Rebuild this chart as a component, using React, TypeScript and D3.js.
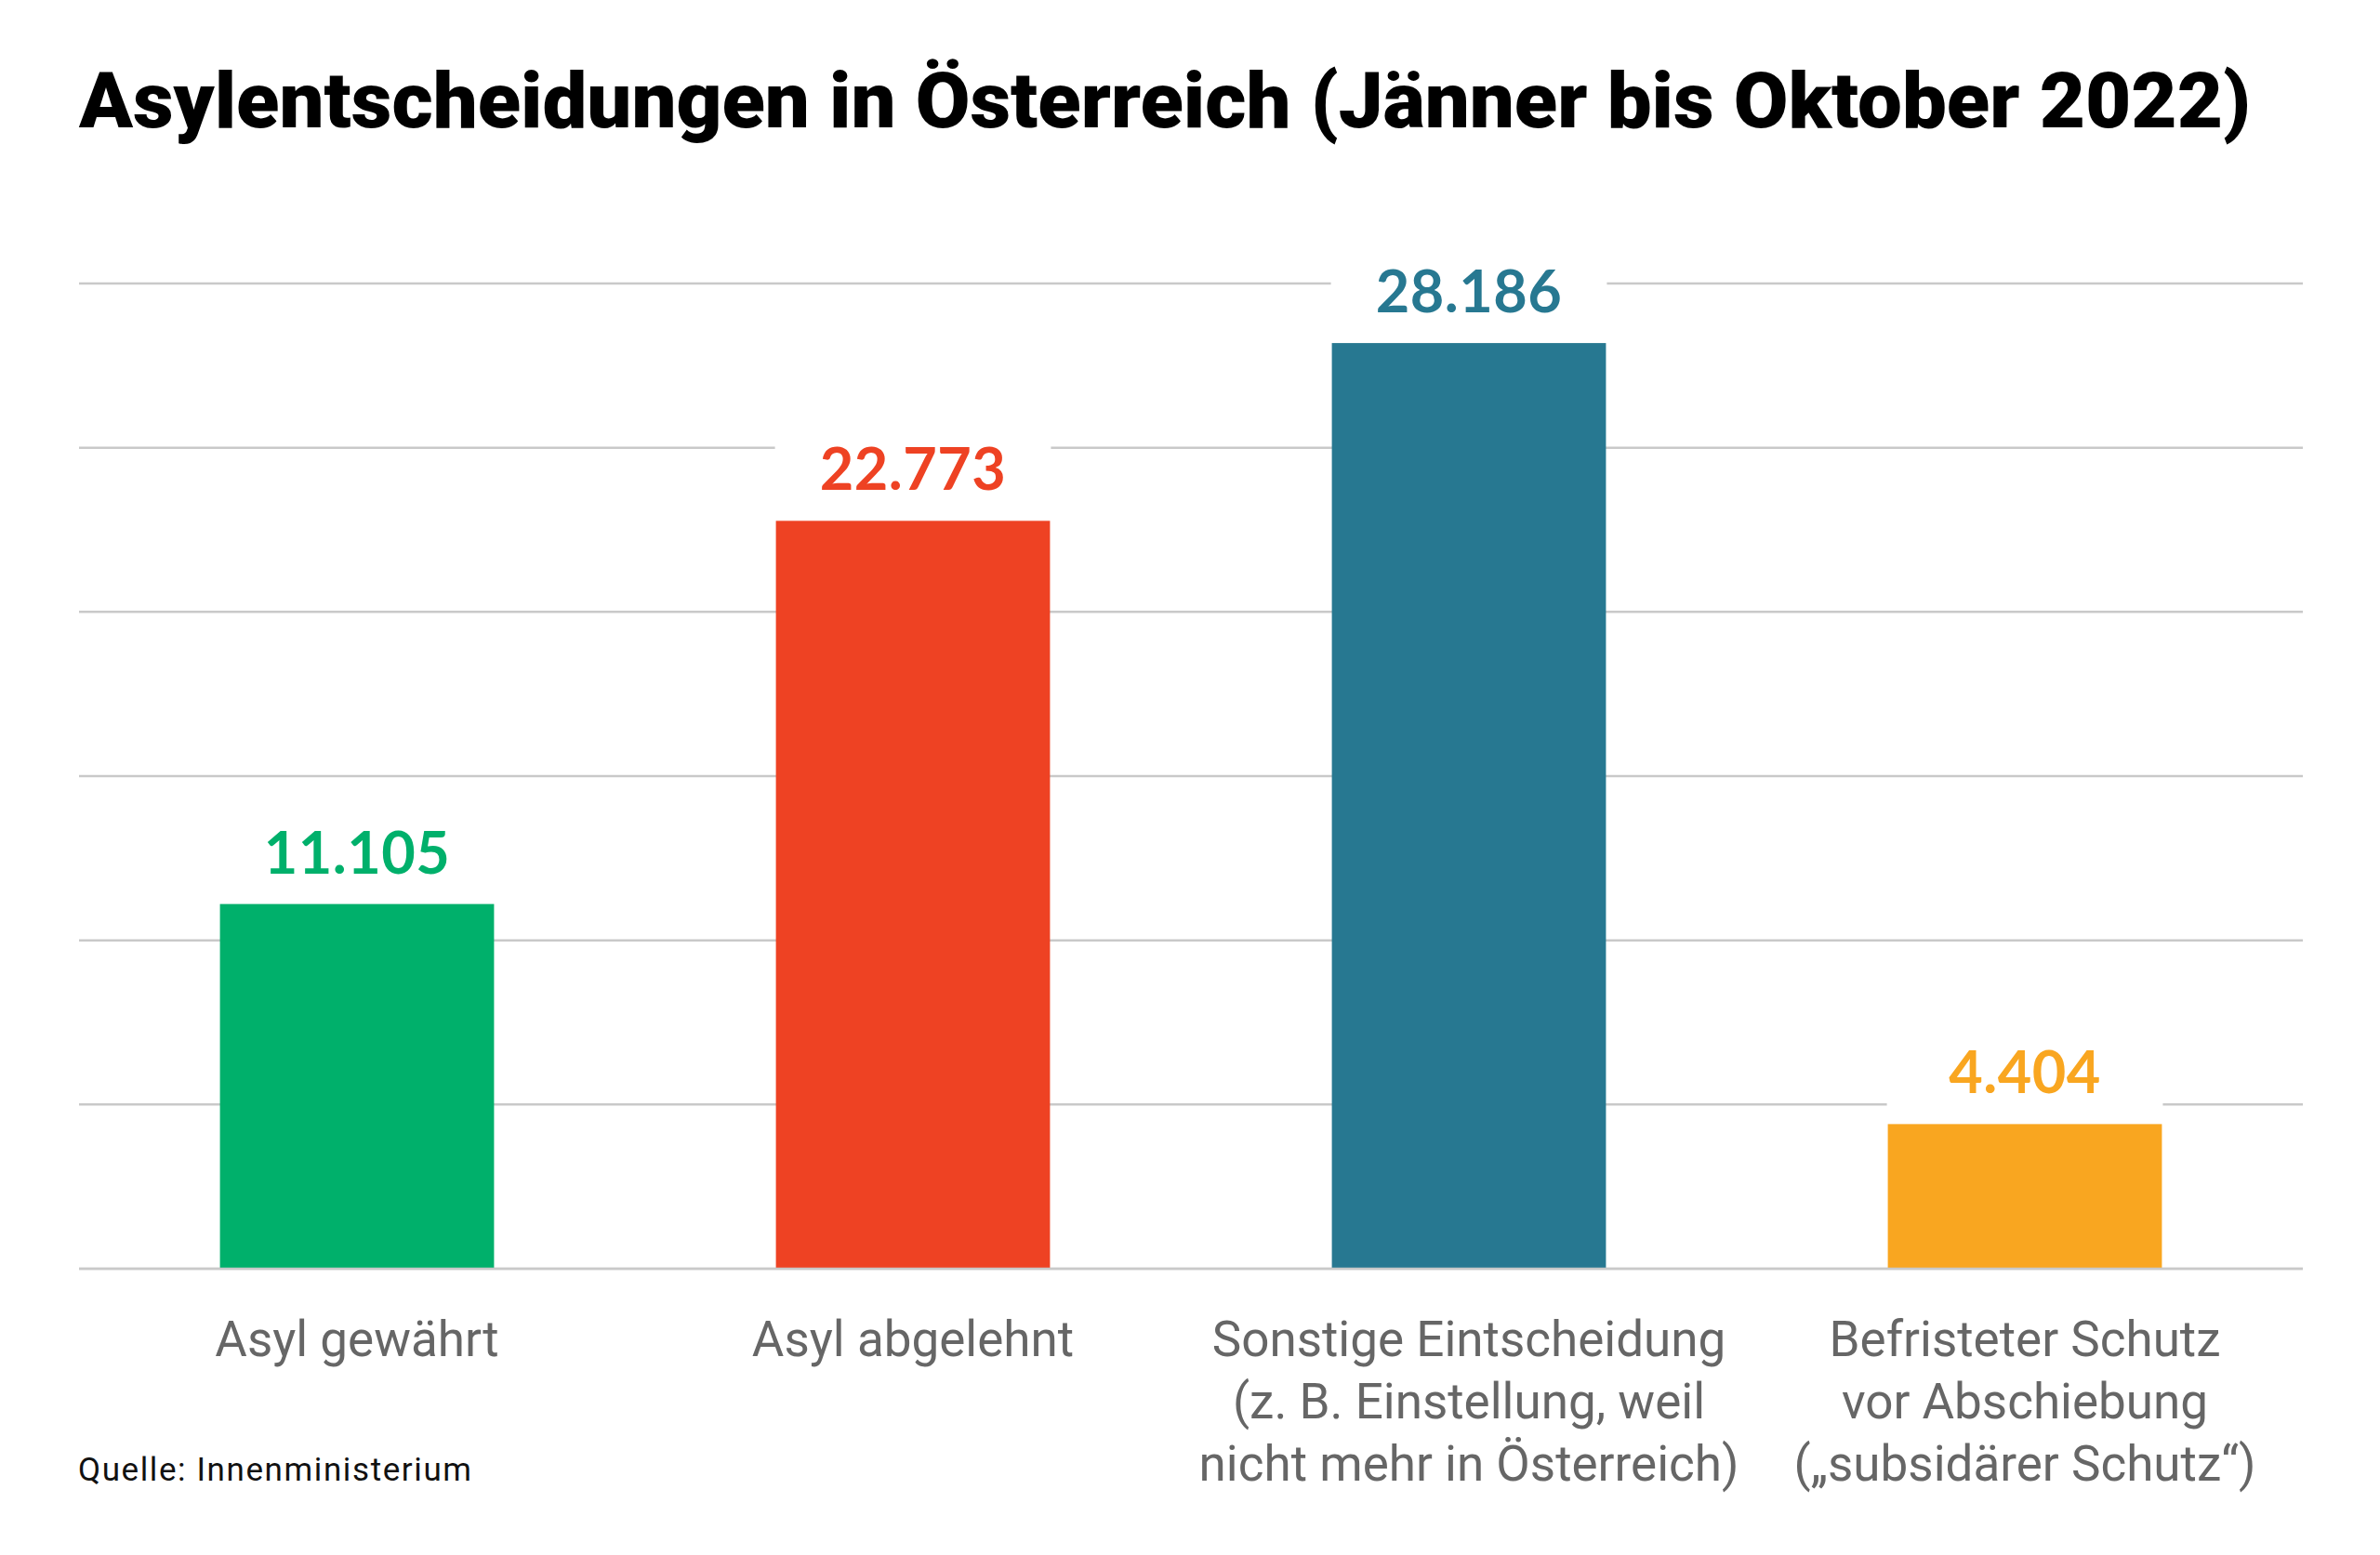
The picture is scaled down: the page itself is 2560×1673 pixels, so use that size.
import { useEffect, useRef } from 'react'
import * as d3 from 'd3'

const categories = [
  ['Asyl gewährt'],
  ['Asyl abgelehnt'],
  ['Sonstige Eintscheidung', '(z. B. Einstellung, weil', 'nicht mehr in Österreich)'],
  ['Befristeter Schutz', 'vor Abschiebung', '(„subsidärer Schutz“)'],
]
const values = [11105, 22773, 28186, 4404]
const colors = ['#00b06b', '#ee4223', '#277891', '#f9a620']
const yTicks = [0, 5000, 10000, 15000, 20000, 25000, 30000]

const title = 'Asylentscheidungen in Österreich (Jänner bis Oktober 2022)'
const source = 'Quelle: Innenministerium'

const de = d3.formatLocale({ decimal: ',', thousands: '.', grouping: [3], currency: ['', ' €'] })
const fmt = de.format(',d')

const App = () => {
  const chartRef = useRef<SVGSVGElement>(null)

  useEffect(() => {
    const width = 2560
    const height = 1673
    const left = 85
    const right = 2477
    const top = 305
    const bottom = 1365

    d3.select(chartRef.current).selectAll('*').remove()
    const svg = d3.select(chartRef.current)
      .attr('width', width)
      .attr('height', height)

    svg.append('rect').attr('width', width).attr('height', height).attr('fill', '#fff')

    const xScale = d3.scaleBand<number>()
      .domain(values.map((_, i) => i))
      .range([left, right])
      .paddingInner(0.507)
      .paddingOuter(0.2535)

    const yScale = d3.scaleLinear()
      .domain([0, 30000])
      .range([bottom, top])

    // gridlines
    svg.append('g')
      .selectAll('line')
      .data(yTicks)
      .enter()
      .append('line')
      .attr('x1', left)
      .attr('x2', right)
      .attr('y1', d => yScale(d))
      .attr('y2', d => yScale(d))
      .attr('stroke', '#c9c9c9')
      .attr('stroke-width', 2.5)

    // white boxes behind the value labels cut the gridlines
    svg.selectAll('.label-bg')
      .data(values)
      .enter()
      .append('rect')
      .attr('class', 'label-bg')
      .attr('x', (d, i) => xScale(i)! - 1)
      .attr('y', d => yScale(d) - 100)
      .attr('width', xScale.bandwidth() + 2)
      .attr('height', 100)
      .attr('fill', '#fff')

    svg.selectAll('.bar')
      .data(values)
      .enter()
      .append('rect')
      .attr('class', 'bar')
      .attr('x', (d, i) => xScale(i)!)
      .attr('y', d => yScale(d))
      .attr('width', xScale.bandwidth())
      .attr('height', d => bottom - yScale(d))
      .attr('fill', (d, i) => colors[i])

    svg.append('line')
      .attr('x1', left)
      .attr('x2', right)
      .attr('y1', bottom)
      .attr('y2', bottom)
      .attr('stroke', '#c9c9c9')
      .attr('stroke-width', 2.5)

    svg.selectAll('.value')
      .data(values)
      .enter()
      .append('text')
      .attr('class', 'value')
      .attr('x', (d, i) => xScale(i)! + xScale.bandwidth() / 2)
      .attr('y', d => yScale(d) - 33)
      .attr('text-anchor', 'middle')
      .attr('fill', (d, i) => colors[i])
      .style('font-family', 'Lato, "Open Sans", sans-serif')
      .style('font-weight', 700)
      .style('font-size', '63px')
      .style('letter-spacing', '0.5px')
      .text(d => fmt(d))

    // category labels, one tspan per line
    const cat = svg.selectAll('.cat')
      .data(categories)
      .enter()
      .append('text')
      .attr('class', 'cat')
      .attr('text-anchor', 'middle')
      .attr('fill', '#666')
      .style('font-family', 'Roboto, "Liberation Sans", sans-serif')
      .style('font-size', '53px')

    cat.selectAll('tspan')
      .data((d, i) => d.map(line => ({ line, i })))
      .enter()
      .append('tspan')
      .attr('x', d => xScale(d.i)! + xScale.bandwidth() / 2)
      .attr('y', (d, j) => 1459 + j * 67)
      .text(d => d.line)

    svg.append('text')
      .attr('x', left)
      .attr('y', 137)
      .attr('textLength', 2336)
      .attr('lengthAdjust', 'spacingAndGlyphs')
      .attr('fill', '#000')
      .style('font-family', 'Roboto, "Liberation Sans", sans-serif')
      .style('font-weight', 900)
      .style('font-size', '84px')
      .text(title)

    svg.append('text')
      .attr('x', left - 1)
      .attr('y', 1593)
      .attr('textLength', 423)
      .attr('lengthAdjust', 'spacing')
      .attr('fill', '#111')
      .style('font-family', 'Roboto, "Liberation Sans", sans-serif')
      .style('font-weight', 400)
      .style('font-size', '35px')
      .text(source)
  }, [])

  return (
    <div style={{ position: 'absolute', left: 0, top: 0 }}>
      <svg ref={chartRef} style={{ display: 'block' }}></svg>
    </div>
  )
}

export default App
